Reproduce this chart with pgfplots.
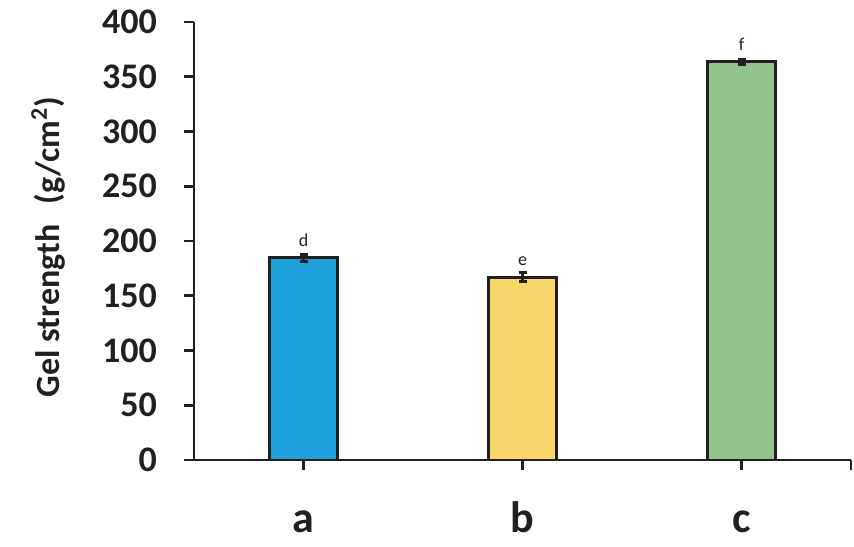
\documentclass[border=0pt]{standalone}
\usepackage{pgfplots}
\pgfplotsset{compat=1.18}
\usepackage{fontspec}
\setmainfont{Carlito}
\definecolor{barblue}{RGB}{30,160,218}
\definecolor{baryellow}{RGB}{249,214,106}
\definecolor{bargreen}{RGB}{146,195,138}
\definecolor{ink}{RGB}{35,31,32}
\begin{document}
\begin{tikzpicture}
\useasboundingbox (-97pt,-43pt) rectangle (330pt,230pt);
\begin{axis}[
  at={(0,0)}, anchor=south west, scale only axis,
  width=328.5pt, height=219pt,
  xmin=-0.5, xmax=2.5, ymin=0, ymax=400,
  axis lines*=left,
  axis line style={line width=1.3pt, color=ink},
  tick style={line width=1.3pt, color=ink},
  tick align=outside, major tick length=5pt,
  ytick={0,50,...,400},
  xtick={0,1,2}, xticklabels={a,b,c},
  extra x ticks={2.5}, extra x tick labels={},
  /pgf/number format/assume math mode=true,
  yticklabel style={font=\bfseries\fontsize{18}{18}\selectfont, color=ink, xshift=-10pt},
  xticklabel style={font=\bfseries\fontsize{22}{22}\selectfont, color=ink, anchor=base, yshift=-31pt},
  ylabel={Gel strength\hspace{0.6em}(g/cm\textsuperscript{2})},
  ylabel style={font=\bfseries\fontsize{17}{17}\selectfont, color=ink, at={(axis description cs:-0.222,0.486)}, anchor=center},
  ybar, bar width=34pt,
  point meta=explicit symbolic,
  nodes near coords,
  nodes near coords style={font=\fontsize{9}{9}\selectfont, color=ink, anchor=south, inner sep=0pt, yshift=5pt},
  error bars/y dir=both, error bars/y explicit,
  error bars/error bar style={line width=1.8pt, color=ink},
  error bars/error mark options={rotate=90, mark size=2pt, line width=1.5pt, color=ink},
]
\addplot[bar shift=0pt, fill=barblue, draw=ink, line width=1.5pt]
  table[row sep=\\, x=x, y=y, y error=e, meta=m] {x y e m\\ 0 184.5 3 d\\};
\addplot[bar shift=0pt, fill=baryellow, draw=ink, line width=1.5pt]
  table[row sep=\\, x=x, y=y, y error=e, meta=m] {x y e m\\ 1 167 4 e\\};
\addplot[bar shift=0pt, fill=bargreen, draw=ink, line width=1.5pt]
  table[row sep=\\, x=x, y=y, y error=e, meta=m] {x y e m\\ 2 363.5 2 f\\};
\end{axis}
\end{tikzpicture}
\end{document}
